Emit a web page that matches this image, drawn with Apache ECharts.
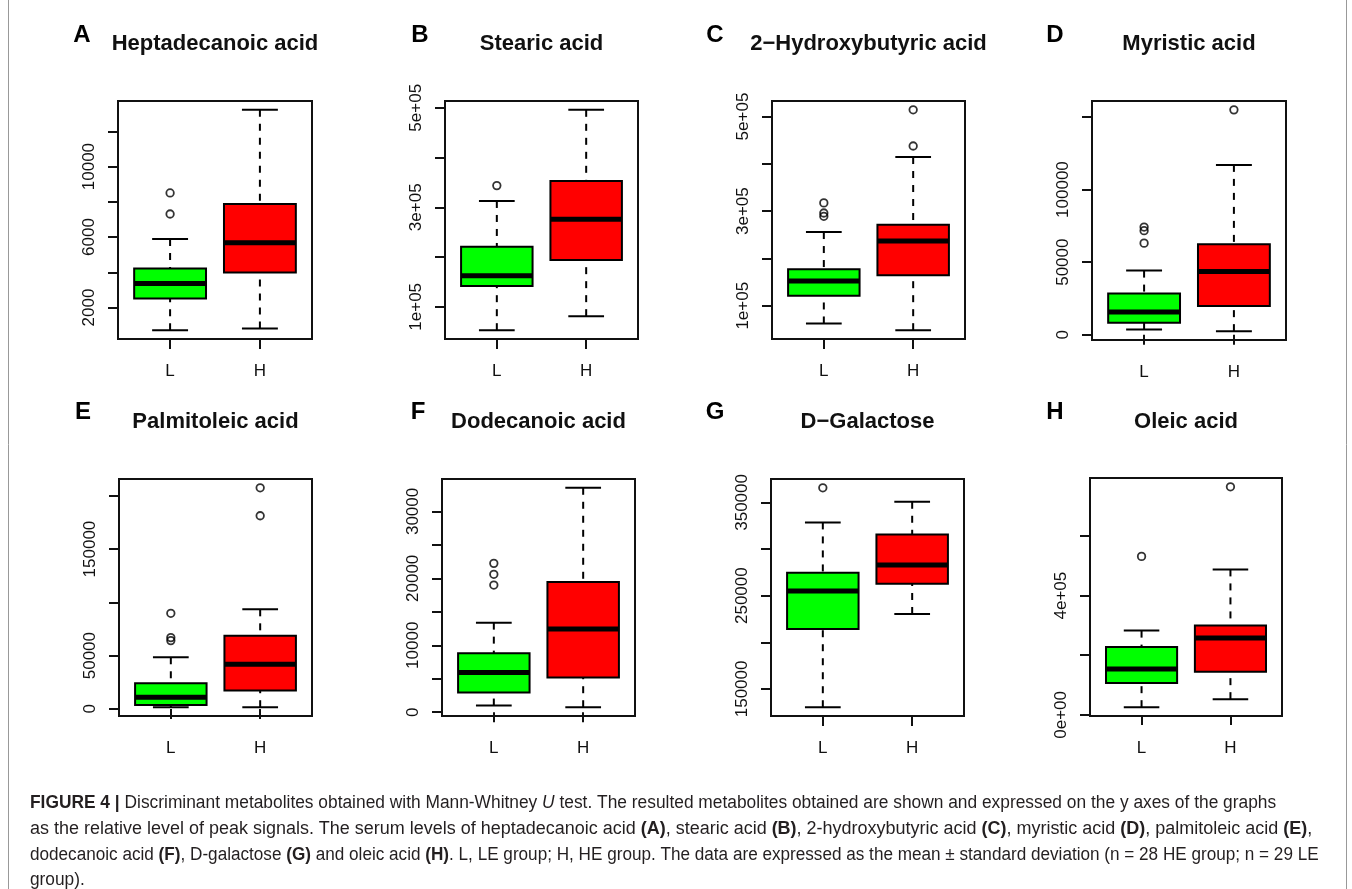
<!DOCTYPE html>
<html><head><meta charset="utf-8">
<script src="https://cdn.jsdelivr.net/npm/echarts@6/dist/echarts.min.js"></script>
<style>html,body{margin:0;padding:0;background:#fff}#c{width:1352px;height:889px}</style>
</head><body><div id="c"></div>
<script>
// ---------- data ----------
const panelLetters = ['A','B','C','D','E','F','G','H'];
const panelTitles = ['Heptadecanoic acid','Stearic acid','2\u2212Hydroxybutyric acid','Myristic acid','Palmitoleic acid','Dodecanoic acid','D\u2212Galactose','Oleic acid'];
const groups = ['L','H'];
// [lower whisker, Q1, median, Q3, upper whisker]
const lowStats = [
  [711, 2512, 3365, 4218, 5887],
  [53000, 141600, 162400, 220800, 312700],
  [62500, 121200, 152400, 177200, 255800],
  [3700, 8300, 15700, 28400, 44200],
  [1560, 3750, 10940, 24060, 48440],
  [995, 2935, 5920, 8806, 13383],
  [130360, 214280, 255000, 274630, 328550],
  [25800, 106500, 153600, 227700, 282600]
];
const highStats = [
  [806, 3991, 5678, 7878, 13224],
  [81200, 193900, 275800, 353000, 495900],
  [48300, 164400, 236600, 271300, 414400],
  [2500, 19900, 43500, 62400, 117000],
  [1560, 17190, 41880, 68750, 93440],
  [746, 5174, 12440, 19450, 33530],
  [230350, 262840, 282840, 315700, 350700],
  [52700, 144700, 258000, 299400, 487900]
];
const lowOutliers = [[7309, 8503], [343600], [289000, 296100, 317400], [63100, 71700, 74200], [64060, 66880, 89690], [19000, 20600, 22240], [365700], [531600]];
const highOutliers = [[], [], [437700, 514200], [154900], [181250, 207500], [], [], [764900]];
const yTicks = [
  [2000, 4000, 6000, 8000, 10000, 12000],
  [100000, 200000, 300000, 400000, 500000],
  [100000, 200000, 300000, 400000, 500000],
  [0, 50000, 100000, 150000],
  [0, 50000, 100000, 150000, 200000],
  [0, 5000, 10000, 15000, 20000, 25000, 30000],
  [150000, 200000, 250000, 300000, 350000],
  [0, 200000, 400000, 600000]
];
const yLabelValues = [
  [2000, 6000, 10000],
  [100000, 300000, 500000],
  [100000, 300000, 500000],
  [0, 50000, 100000],
  [0, 50000, 150000],
  [0, 10000, 20000, 30000],
  [150000, 250000, 350000],
  [0, 400000]
];
const yLabelTexts = [
  ['2000', '6000', '10000'],
  ['1e+05', '3e+05', '5e+05'],
  ['1e+05', '3e+05', '5e+05'],
  ['0', '50000', '100000'],
  ['0', '50000', '150000'],
  ['0', '10000', '20000', '30000'],
  ['150000', '250000', '350000'],
  ['0e+00', '4e+05']
];
const captionLines = [
  '{b|FIGURE 4 |} Discriminant metabolites obtained with Mann-Whitney {i|U} test. The resulted metabolites obtained are shown and expressed on the y axes of the graphs',
  'as the relative level of peak signals. The serum levels of heptadecanoic acid {b|(A)}, stearic acid {b|(B)}, 2-hydroxybutyric acid {b|(C)}, myristic acid {b|(D)}, palmitoleic acid {b|(E)},',
  'dodecanoic acid {b|(F)}, D-galactose {b|(G)} and oleic acid {b|(H)}. L, LE group; H, HE group. The data are expressed as the mean \u00b1 standard deviation (n = 28 HE group; n = 29 LE',
  'group).'
];

// ---------- layout ----------
const gridLeft = [118, 445, 772, 1092, 119, 442, 771, 1090];
const gridTop = [101, 101, 101, 101, 479, 479, 479, 478];
const gridW = [194, 193, 193, 194, 193, 193, 193, 192];
const gridH = [238, 238, 238, 239, 237, 237, 237, 238];
const letterX = [82, 420, 715, 1055, 83, 418, 715, 1055];
const letterY = [35, 35, 35, 35, 412, 412, 412, 412];
const titleY = [44, 44, 44, 44, 422, 422, 422, 422];
const capY = [803, 829, 855, 880];
const capScale = [0.964, 0.999, 0.952, 0.96];
const boxColors = ['#00ff00', '#ff0000'];
const FONT = '"Liberation Sans", Arial, Helvetica, sans-serif';

const chart = echarts.init(document.getElementById('c'), null, {renderer: 'canvas'});

function renderBox(params, api) {
  const x = api.value(0);
  const c = api.coord([x, api.value(3)]);
  const yLo = api.coord([x, api.value(1)])[1];
  const yQ1 = api.coord([x, api.value(2)])[1];
  const yQ3 = api.coord([x, api.value(4)])[1];
  const yHi = api.coord([x, api.value(5)])[1];
  const bw = api.size([0.8, 0])[0];
  const cw = api.size([0.4, 0])[0];
  const cx = c[0], yMd = c[1];
  const fill = boxColors[Math.round(x) - 1];
  const ln = (x1, y1, x2, y2, w, dash) => ({type: 'line', shape: {x1, y1, x2, y2}, style: {stroke: '#000', lineWidth: w, lineDash: dash || null}});
  return {type: 'group', children: [
    ln(cx, yLo, cx, yQ1, 2, [7, 7]),
    ln(cx, yHi, cx, yQ3, 2, [7, 7]),
    ln(cx - cw / 2, yLo, cx + cw / 2, yLo, 2),
    ln(cx - cw / 2, yHi, cx + cw / 2, yHi, 2),
    {type: 'rect', shape: {x: cx - bw / 2, y: yQ3, width: bw, height: yQ1 - yQ3}, style: {fill: fill, stroke: '#000', lineWidth: 2}},
    ln(cx - bw / 2, yMd, cx + bw / 2, yMd, 5)
  ]};
}

const grids = [], xAxes = [], yAxes = [], series = [], graphics = [];
for (let i = 0; i < 8; i++) {
  const all = lowStats[i].concat(highStats[i], lowOutliers[i], highOutliers[i]);
  const dMin = Math.min.apply(null, all), dMax = Math.max.apply(null, all);
  const pad = (dMax - dMin) * 0.04;
  grids.push({left: gridLeft[i], top: gridTop[i], width: gridW[i], height: gridH[i], show: true, borderColor: '#111', borderWidth: 2, backgroundColor: 'transparent'});
  xAxes.push({
    type: 'value', gridIndex: i, min: 0.42, max: 2.58,
    axisLine: {show: false}, splitLine: {show: false},
    axisTick: {show: true, length: 10, customValues: [1, 2], lineStyle: {color: '#111', width: 2}},
    axisLabel: {show: true, customValues: [1, 2], margin: 24, fontSize: 17, color: '#111', fontFamily: FONT,
      formatter: v => groups[Math.round(v) - 1]}
  });
  const lv = yLabelValues[i], lt = yLabelTexts[i];
  yAxes.push({
    type: 'value', gridIndex: i, min: dMin - pad, max: dMax + pad,
    axisLine: {show: false}, splitLine: {show: false},
    axisTick: {show: true, length: 10, customValues: yTicks[i], lineStyle: {color: '#111', width: 2}},
    axisLabel: {show: true, customValues: lv, rotate: 90, margin: 20, fontSize: 17, color: '#111', fontFamily: FONT,
      formatter: v => { const k = lv.indexOf(v); return k >= 0 ? lt[k] : ''; }}
  });
  series.push({
    type: 'custom', xAxisIndex: i, yAxisIndex: i, renderItem: renderBox, silent: true,
    data: [[1].concat(lowStats[i]), [2].concat(highStats[i])]
  });
  series.push({
    type: 'scatter', xAxisIndex: i, yAxisIndex: i, silent: true, symbol: 'circle', symbolSize: 7.5,
    itemStyle: {color: 'rgba(0,0,0,0)', borderColor: '#000', borderWidth: 1.8},
    data: lowOutliers[i].map(v => [1, v]).concat(highOutliers[i].map(v => [2, v]))
  });
  graphics.push({type: 'text', x: gridLeft[i] + gridW[i] / 2, y: titleY[i],
    style: {text: panelTitles[i], font: 'bold 22px ' + FONT, fill: '#111', textAlign: 'center', textVerticalAlign: 'middle'}});
  graphics.push({type: 'text', x: letterX[i], y: letterY[i],
    style: {text: panelLetters[i], font: 'bold 24px ' + FONT, fill: '#000', textAlign: 'center', textVerticalAlign: 'middle'}});
}
captionLines.forEach((t, k) => {
  graphics.push({type: 'text', x: 30, y: capY[k], scaleX: capScale[k], originX: 0,
    style: {text: t, fontSize: 18, fontFamily: FONT, fill: '#231f20', textAlign: 'left', textVerticalAlign: 'middle',
      rich: {b: {fontWeight: 'bold', fontSize: 18, fontFamily: FONT, fill: '#231f20'}, i: {fontStyle: 'italic', fontSize: 18, fontFamily: FONT, fill: '#231f20'}}}});
});
graphics.push({type: 'line', shape: {x1: 8.5, y1: 0, x2: 8.5, y2: 889}, style: {stroke: '#999', lineWidth: 1}});
graphics.push({type: 'line', shape: {x1: 1346.5, y1: 0, x2: 1346.5, y2: 889}, style: {stroke: '#999', lineWidth: 1}});

chart.setOption({
  animation: false,
  backgroundColor: '#fff',
  grid: grids, xAxis: xAxes, yAxis: yAxes, series: series, graphic: graphics
});
</script></body></html>
